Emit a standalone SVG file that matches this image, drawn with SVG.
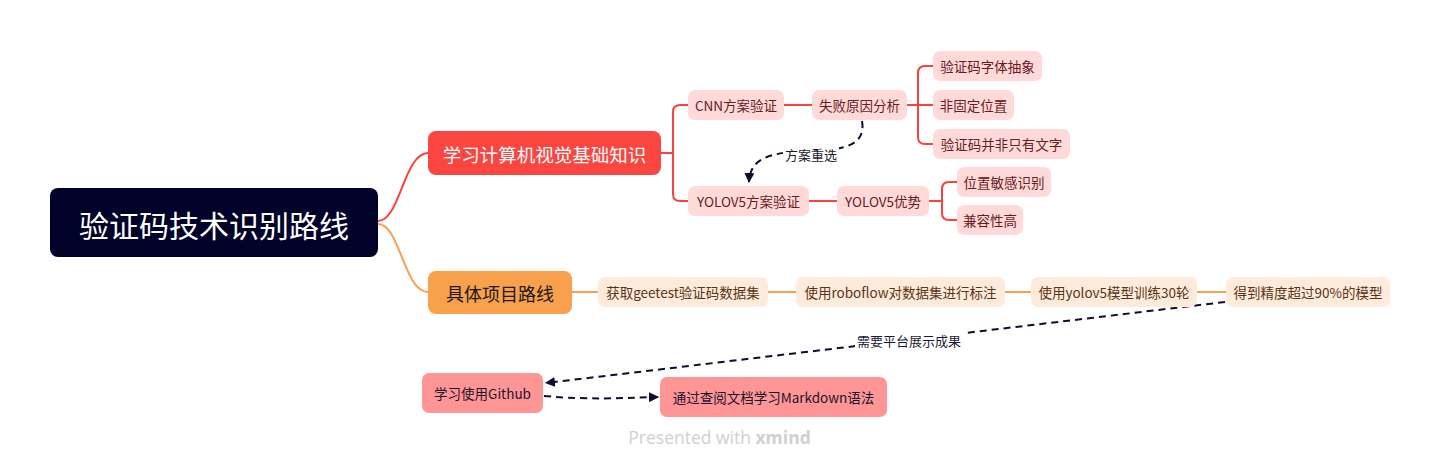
<svg xmlns="http://www.w3.org/2000/svg" width="1440" height="468" viewBox="0 0 1440 468">
<defs>
<marker id="arr" viewBox="0 0 10 10" refX="9" refY="5" markerWidth="5" markerHeight="5" orient="auto" markerUnits="strokeWidth">
<path d="M0,0 L10,5 L0,10 z" fill="#0d0d30"/>
</marker>
<style>
text{font-family:"Noto Sans CJK SC","Noto Sans",sans-serif;text-anchor:middle;dominant-baseline:central;font-weight:normal}
.red{fill:#ffdad8}
.redt{fill:#6a1b1f;font-size:13.5px}
.org{fill:#feebdb}
.orgt{fill:#5a3414;font-size:13.5px}
.flt{fill:#ff9594}
.fltt{fill:#1a1530;font-size:13.5px}
.lr{fill:none;stroke:#f9423f;stroke-width:2}
.lo{fill:none;stroke:#f8a04c;stroke-width:2}
.rel{fill:none;stroke:#0d0d30;stroke-width:2;stroke-dasharray:7 5}
.lbl{fill:#1a1a30;font-size:13px}
</style>
</defs>
<rect width="1440" height="468" fill="#ffffff"/>
<g id="connectors">
<path class="lr" d="M378,221 C400,221 404,153 428,153"/>
<path class="lo" d="M378,224 C400,224 404,292 428,292"/>
<path class="lr" d="M661,153 H673 M688,105 H680 Q673,105 673,112 V194 Q673,201 680,201 H688"/>
<path class="lr" d="M784,105 H812"/>
<path class="lr" d="M907,105 H933 M933,66 H925 Q918,66 918,73 V137 Q918,144 925,144 H933"/>
<path class="lr" d="M809,201 H837"/>
<path class="lr" d="M929,201 H942 M957,182 H949 Q942,182 942,189 V213 Q942,220 949,220 H957"/>
<path class="lo" d="M572,292 H598 M768,292 H796 M1005,292 H1031 M1197,292 H1226"/>
<path class="rel" d="M862,121 C866,145 845,150 810,151 C770,152 750,158 749,182" marker-end="url(#arr)"/>
<path class="rel" d="M1225,302 L546,383" marker-end="url(#arr)"/>
<path class="rel" d="M544,396 C590,400 620,398 658,397" marker-end="url(#arr)"/>
<rect x="783" y="145" width="56" height="18" fill="#ffffff"/>
<text class="lbl" x="811" y="154">方案重选</text>
<rect x="855" y="331" width="108" height="19" fill="#ffffff"/>
<text class="lbl" x="909" y="340">需要平台展示成果</text>
</g>
<g id="root">
<rect x="50" y="188" width="328" height="69" rx="8" fill="#000229"/>
<text x="214" y="224" fill="#ffffff" font-size="30">验证码技术识别路线</text>
</g>
<g id="main1">
<rect x="428" y="131" width="233" height="44" rx="8" fill="#fa4540"/>
<text x="544.5" y="154" fill="#ffffff" font-size="18.5">学习计算机视觉基础知识</text>
</g>
<g id="main2">
<rect x="428" y="271" width="144" height="43" rx="8" fill="#f8a04c"/>
<text x="500" y="293" fill="#1a1a1a" font-size="18">具体项目路线</text>
</g>
<g id="cnn"><rect class="red" x="688" y="90" width="96" height="30" rx="7"/><text class="redt" x="736" y="105">CNN方案验证</text></g>
<g id="fail"><rect class="red" x="812" y="90" width="95" height="30" rx="7"/><text class="redt" x="859.5" y="105">失败原因分析</text></g>
<g id="font"><rect class="red" x="933" y="51" width="109" height="30" rx="7"/><text class="redt" x="987.5" y="66">验证码字体抽象</text></g>
<g id="pos"><rect class="red" x="933" y="90" width="81" height="30" rx="7"/><text class="redt" x="973.5" y="105">非固定位置</text></g>
<g id="notext"><rect class="red" x="933" y="129" width="137" height="30" rx="7"/><text class="redt" x="1001.5" y="144">验证码并非只有文字</text></g>
<g id="yolo"><rect class="red" x="688" y="186" width="121" height="30" rx="7"/><text class="redt" x="748.5" y="201">YOLOV5方案验证</text></g>
<g id="adv"><rect class="red" x="837" y="186" width="92" height="30" rx="7"/><text class="redt" x="883" y="201">YOLOV5优势</text></g>
<g id="sens"><rect class="red" x="957" y="167" width="94" height="30" rx="7"/><text class="redt" x="1004" y="182">位置敏感识别</text></g>
<g id="compat"><rect class="red" x="957" y="205" width="66" height="30" rx="7"/><text class="redt" x="990" y="220">兼容性高</text></g>
<g id="geetest"><rect class="org" x="598" y="277" width="170" height="30" rx="7"/><text class="orgt" x="683" y="292">获取geetest验证码数据集</text></g>
<g id="roboflow"><rect class="org" x="796" y="277" width="209" height="30" rx="7"/><text class="orgt" x="900.5" y="292">使用roboflow对数据集进行标注</text></g>
<g id="train"><rect class="org" x="1031" y="277" width="166" height="30" rx="7"/><text class="orgt" x="1114" y="292">使用yolov5模型训练30轮</text></g>
<g id="acc"><rect class="org" x="1226" y="277" width="164" height="30" rx="7"/><text class="orgt" x="1308" y="292">得到精度超过90%的模型</text></g>
<g id="github"><rect class="flt" x="422" y="373" width="121" height="40" rx="7"/><text class="fltt" x="482.5" y="393">学习使用Github</text></g>
<g id="markdown"><rect class="flt" x="660" y="377" width="227" height="40" rx="7"/><text class="fltt" x="773.5" y="397">通过查阅文档学习Markdown语法</text></g>
<text x="719.5" y="437" fill="#d0d0d0" font-size="17.5" style="font-family:'Open Sans','Noto Sans',sans-serif">Presented with <tspan font-weight="bold">xmind</tspan></text>
</svg>
